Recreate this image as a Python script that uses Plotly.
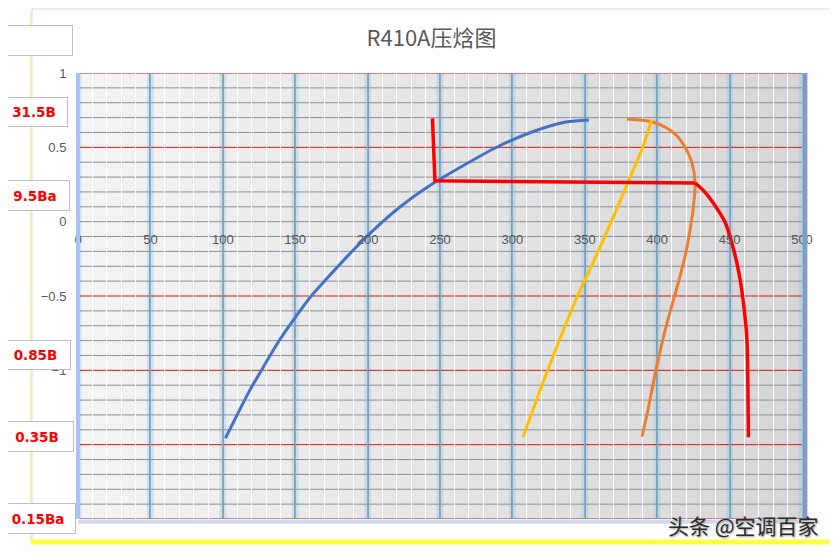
import plotly.graph_objects as go

# R410A pressure-enthalpy chart
# h = enthalpy axis (0..500), p = vertical axis (-2..1)
liquid_h = [101.8, 110.5, 118.6, 126.7, 134.6, 142.7, 150.8, 161.1, 172.5, 186.3, 202.4, 221.9, 244.6, 268.0, 290.8, 313.5, 336.9, 352.8]
liquid_p = [-1.457, -1.288, -1.135, -1.0, -0.868, -0.745, -0.633, -0.5, -0.376, -0.230, -0.072, 0.095, 0.253, 0.388, 0.509, 0.603, 0.670, 0.684]

vapour_h = [379.1, 396.3, 405.6, 413.6, 419.3, 423.9, 426.2, 425.1, 422.8, 419.3, 415.2, 412.0, 405.6, 399.1, 394.1, 389.5]
vapour_p = [0.690, 0.672, 0.635, 0.578, 0.500, 0.399, 0.260, 0.108, -0.049, -0.230, -0.387, -0.5, -0.725, -1.0, -1.243, -1.446]

isen_h = [396.3, 389.5, 379.8, 371.1, 356.9, 345.1, 324.7, 307.3]
isen_p = [0.686, 0.489, 0.265, 0.063, -0.251, -0.498, -0.991, -1.450]

cycle_h = [244.8, 246.5, 426.2]
cycle_p = [0.695, 0.275, 0.260]
cycle_curve_h = [426.2, 433.1, 440.0, 446.9, 451.4, 454.9, 457.2, 459.5, 461.8, 462.5, 463.0]
cycle_curve_p = [0.260, 0.197, 0.107, -0.004, -0.139, -0.273, -0.386, -0.542, -0.767, -0.991, -1.450]

side_labels = ["", "31.5B", "9.5Ba", "0.85B", "0.35B", "0.15Ba"]
x_ticks = list(range(0, 501, 50))
y_ticks = [1, 0.5, 0, -0.5, -1, -1.5, -2]

# the page puts the figure 8px in from the top-left corner
OFF = 8
W, H = 837 - OFF, 553 - OFF
L, R, T, B = 78 - OFF, 837 - 802, 73 - OFF, 553 - 519
PW, PH = W - L - R, H - T - B


def px_x(px):
    return (px - OFF - L) / PW


def px_y(py):
    return ((H - B) - (py - OFF)) / PH


fig = go.Figure()
fig.add_trace(go.Scatter(x=liquid_h, y=liquid_p, mode="lines", line=dict(color="#4472C4", width=3, shape="spline", smoothing=0.8)))
fig.add_trace(go.Scatter(x=vapour_h, y=vapour_p, mode="lines", line=dict(color="#ED7D31", width=3, shape="spline", smoothing=0.8)))
fig.add_trace(go.Scatter(x=isen_h, y=isen_p, mode="lines", line=dict(color="#FFC000", width=3, shape="spline", smoothing=0.8)))
fig.add_trace(go.Scatter(x=cycle_h, y=cycle_p, mode="lines", line=dict(color="#FF0000", width=3.5)))
fig.add_trace(go.Scatter(x=cycle_curve_h, y=cycle_curve_p, mode="lines", line=dict(color="#FF0000", width=3.5, shape="spline", smoothing=0.8)))

shapes = []
# background: left-to-right grey gradient
n = 60
for i in range(n):
    t = i / (n - 1)
    c = int(round(0xf4 + (0xd6 - 0xf4) * t))
    shapes.append(dict(type="rect", xref="x domain", yref="y domain", x0=i / n, x1=(i + 1) / n + 0.002,
                       y0=0, y1=1, fillcolor=f"rgb({c},{c},{c})", line_width=0, layer="below"))
# soft glow behind major verticals
for v in x_ticks:
    shapes.append(dict(type="line", xref="x", yref="y domain", x0=v, x1=v, y0=0, y1=1,
                       line=dict(color="rgba(150,195,225,0.35)", width=7), layer="below"))
# horizontal grid under the white minor verticals: grey every 0.1, red every 0.5, grey at 0
for k in range(-20, 11):
    if k % 5 or k == 0:
        col = "#8592a0"
    else:
        col = "#d81818"
    shapes.append(dict(type="line", xref="x domain", yref="y", x0=0, x1=1, y0=k / 10, y1=k / 10,
                       line=dict(color=col, width=1), layer="below"))

# plot frame glow
shapes.append(dict(type="line", xref="x domain", yref="y domain", x0=0, x1=0, y0=0, y1=1,
                   line=dict(color="#a9c3f2", width=4)))
shapes.append(dict(type="line", xref="x domain", yref="y domain", x0=1.004, x1=1.004, y0=-0.005, y1=1,
                   line=dict(color="#7b9dcc", width=5)))
shapes.append(dict(type="line", xref="x domain", yref="y domain", x0=0, x1=1, y0=-0.006, y1=-0.006,
                   line=dict(color="rgba(120,150,200,0.35)", width=4)))
# outer chart frame
shapes.append(dict(type="rect", xref="paper", yref="paper",
                   x0=px_x(32), x1=px_x(832), y0=px_y(541), y1=px_y(9),
                   line=dict(color="#d9d9d9", width=1), layer="below"))
shapes.append(dict(type="line", xref="paper", yref="paper", x0=px_x(31), x1=px_x(31), y0=px_y(541), y1=px_y(12),
                   line=dict(color="#f3efa8", width=2)))
shapes.append(dict(type="line", xref="paper", yref="paper", x0=px_x(833), x1=px_x(833), y0=px_y(541), y1=px_y(12),
                   line=dict(color="#f3f0c0", width=2)))
shapes.append(dict(type="line", xref="paper", yref="paper", x0=px_x(31), x1=px_x(830), y0=px_y(542), y1=px_y(542),
                   line=dict(color="#ffff3a", width=5)))

# white label boxes on the left (pixel boxes: right edge, top, bottom)
boxes = [(73, 25, 56), (68, 97, 127), (70, 180, 211), (71, 340, 370), (74, 421, 452), (76, 503, 534)]
annotations = []
for text, (xr, yt, yb) in zip(side_labels, boxes):
    annotations.append(dict(
        text=f"<b>{text}</b>" if text else " ", xref="paper", yref="paper",
        x=px_x(0), y=px_y((yt + yb) / 2),
        xanchor="left", yanchor="middle", showarrow=False, align="center",
        width=xr - 2, height=yb - yt - 2, bgcolor="white", bordercolor="#bfbfbf",
        borderwidth=1, borderpad=0,
        font=dict(family="DejaVu Sans", size=13.5, color="#ff0000")))
annotations.append(dict(
    text="头条 @空调百家", xref="paper", yref="paper",
    x=px_x(821), y=px_y(525),
    xanchor="right", yanchor="middle", showarrow=False,
    font=dict(family="Noto Sans CJK SC", size=21, color="#2b2b2b", shadow="1px 1px 2px #9a9a9a")))

fig.update_layout(
    width=W, height=H,
    margin=dict(l=L, r=R, t=T, b=B),
    paper_bgcolor="white",
    plot_bgcolor="#e6e6e6",
    showlegend=False,
    title=dict(text="R410A压焓图", x=(431.5 - OFF) / W, xanchor="center", y=1 - (38 - OFF) / H, yanchor="middle",
               font=dict(family="Noto Sans CJK SC", size=22, color="#595959")),
    shapes=shapes,
    annotations=annotations,
)
fig.update_xaxes(
    range=[0, 500], tickvals=x_ticks, anchor="free", position=2 / 3,
    showgrid=True, gridcolor="rgba(105,150,180,0.8)", gridwidth=2,
    minor=dict(dtick=10, showgrid=True, gridcolor="white", gridwidth=1),
    zeroline=False, showline=False, ticks="outside", ticklen=6, tickcolor="rgba(0,0,0,0)",
    tickfont=dict(family="Liberation Sans", size=13, color="#595959"),
)
fig.update_yaxes(
    range=[-2, 1], tickvals=y_ticks,
    showgrid=False, zeroline=False,
    showline=False, ticks="outside", ticklen=8, tickcolor="rgba(0,0,0,0)",
    tickfont=dict(family="Liberation Sans", size=13, color="#595959"),
)

fig.write_html("out.html")
